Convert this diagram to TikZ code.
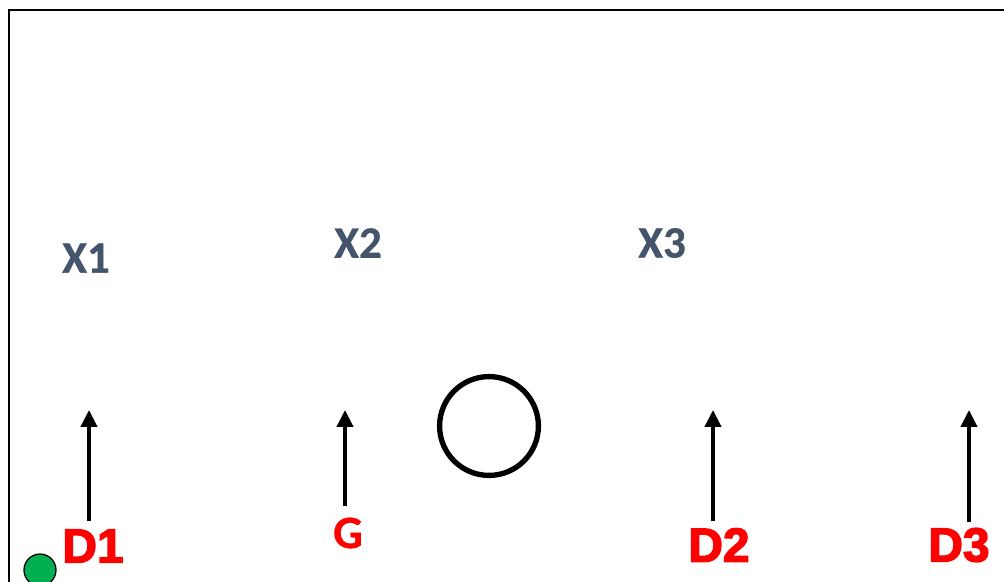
\documentclass[tikz,border=0pt]{standalone}
\usepackage{fontspec}
\usetikzlibrary{arrows.meta}
\newfontfamily\calfont[FakeBold=0.6]{Carlito Bold}
\newfontfamily\heavyfont[FakeBold=3]{Liberation Sans Bold}
\definecolor{offgray}{HTML}{44546A}
\definecolor{defred}{HTML}{FF0000}
\definecolor{ballgreen}{HTML}{00B050}
\tikzset{
  offense/.style={
    font=\calfont\fontsize{32}{32}\selectfont, text=offgray, inner sep=0pt
  },
  defense/.style={
    font=\heavyfont\fontsize{34}{34}\selectfont, text=defred, inner sep=0pt
  },
  goalie/.style={
    font=\calfont\fontsize{33}{33}\selectfont, text=defred, inner sep=0pt
  },
  run arrow/.style={
    line width=2.6pt, -{Triangle[length=0.42cm, width=0.4cm]}
  },
  ring/.style={
    circle, draw=black, line width=3.8pt, fill=white, inner sep=0pt, minimum size=2.47cm
  },
  ball/.style={
    circle, draw=black, line width=0.9pt, fill=ballgreen, inner sep=0pt, minimum size=0.8cm
  }
}

\begin{document}
\begin{tikzpicture}[x=0.025cm, y=-0.025cm]

\useasboundingbox (0,0) rectangle (1004,581);
\clip (0,0) rectangle (1004,581);

% ---------------------------
% court
% ---------------------------
\draw[line width=1.8pt] (9,10) rectangle (1030,610);
\node[ring] (C) at (489,426) {};

% ---------------------------
% offense
% ---------------------------
\node[offense] (X1) at (86,258) {X1};
\node[offense] (X2) at (358,243) {X2};
\node[offense] (X3) at (662,243) {X3};

% ---------------------------
% defense
% ---------------------------
\node[defense] (D1) at (93,546) {D1};
\node[goalie] (G) at (348,533) {G};
\node[defense] (D2) at (719,545) {D2};
\node[defense] (D3) at (959,545) {D3};

\coordinate (D1a) at (89,521);
\coordinate (D1b) at (89,410);
\coordinate (Ga) at (345,506);
\coordinate (Gb) at (345,410);
\coordinate (D2a) at (713,521);
\coordinate (D2b) at (713,410);
\coordinate (D3a) at (969,522);
\coordinate (D3b) at (969,410);

\draw[run arrow] (D1a) -- (D1b);
\draw[run arrow] (Ga) -- (Gb);
\draw[run arrow] (D2a) -- (D2b);
\draw[run arrow] (D3a) -- (D3b);

% ball
\node[ball] (B) at (40,570) {};

%
\end{tikzpicture}
\end{document}
